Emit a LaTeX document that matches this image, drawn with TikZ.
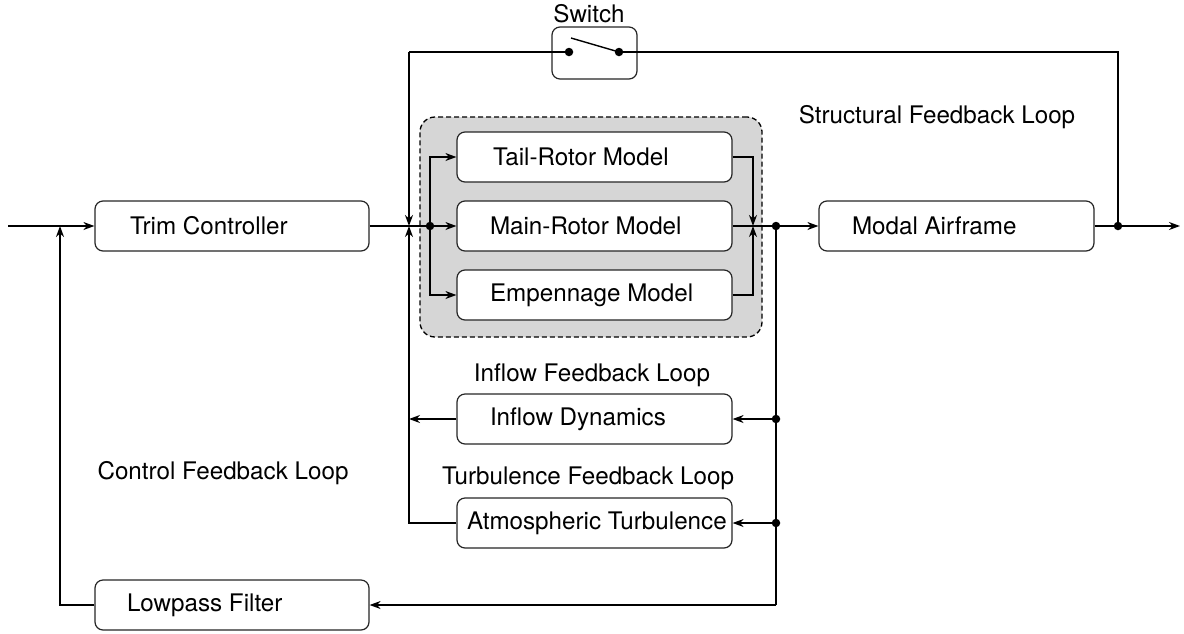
\documentclass[tikz,border=0pt]{standalone}
\usepackage{fontspec}
\setmainfont{TeX Gyre Heros}
\usetikzlibrary{arrows.meta}
\newcommand{\blabel}[3]{\makebox[#1pt][l]{\hspace{#2pt}#3}}
\begin{document}
\begin{tikzpicture}[x=1pt,y=-1pt,
  font=\fontsize{24.2}{28}\selectfont,
  blk/.style={draw=black!85, line width=1.2pt, rounded corners=8pt, fill=white, inner sep=0pt, minimum height=50pt, anchor=center},
  wire/.style={line width=1.4pt},
  arr/.style={wire, -{Stealth[length=11pt,width=8pt,inset=3.5pt]}},
  dot/.style={circle, fill=black, inner sep=0pt, minimum size=8.5pt},
  lbl/.style={inner sep=0pt}
]
\useasboundingbox (0,0) rectangle (1184,633);
% group
\node[draw=black, line width=1.3pt, dash pattern=on 5pt off 3pt, fill=black!16, rounded corners=15pt, minimum width=342pt, minimum height=220pt, inner sep=0pt] (grp) at (591,227) {};
% blocks
\node[blk, minimum width=274pt] (trim) at (232,226) {\blabel{274}{35}{Trim Controller}};
\node[blk, minimum width=274pt] (lowpass) at (232,605) {\blabel{274}{32}{Lowpass Filter}};
\node[blk, minimum width=275pt] (modal) at (956.5,226) {\blabel{275}{33}{Modal Airframe}};
\node[blk, minimum width=275pt] (tail) at (594.5,157) {\blabel{275}{36}{Tail-Rotor Model}};
\node[blk, minimum width=275pt] (main) at (594.5,226) {\blabel{275}{33}{Main-Rotor Model}};
\node[blk, minimum width=275pt] (emp) at (594.5,295) {\blabel{275}{33}{Empennage Model}};
\node[blk, minimum width=275pt] (inflow) at (594.5,419) {\blabel{275}{33}{Inflow Dynamics}};
\node[blk, minimum width=275pt] (atmos) at (594.5,523) {\blabel{275}{10}{Atmospheric Turbulence}};
% switch
\node[blk, minimum width=85pt, minimum height=52pt] (sw) at (594.5,53) {};
\node[lbl] (swlabel) at (589,14) {Switch};
\node[dot] (swa) at (569,52) {};
\node[dot] (swb) at (619,52) {};
\coordinate (lever) at (571,38);
\draw[wire] (lever) -- (swb.center);
% labels
\node[lbl] (lstruct) at (937,117) {Structural Feedback Loop};
\node[lbl] (lctrl) at (223,473) {Control Feedback Loop};
\node[lbl] (linflow) at (592,375) {Inflow Feedback Loop};
\node[lbl] (lturb) at (588,478) {Turbulence Feedback Loop};
% junctions
\coordinate (in) at (8,226);
\node[dot] (split) at (430,226) {};
\coordinate (merge) at (753,226);
\node[dot] (tap) at (776,226) {};
\node[dot] (outtap) at (1118,226) {};
\coordinate (out) at (1180,226);
\node[dot] (ti) at (776,419) {};
\node[dot] (ta) at (776,523) {};
\coordinate (sum) at (409,226);
\coordinate (fb) at (60,226);
\coordinate (swl) at (409,52);
\coordinate (str) at (1118,52);
\coordinate (lowc) at (776,605);
% connectors
\draw[arr] (in) -- (trim.west);
\draw[wire] (trim.east) -- (split.center);
\draw[arr] (split.center) -- (main.west);
\draw[arr] (split.center) |- (tail.west);
\draw[arr] (split.center) |- (emp.west);
\draw[arr] (tail.east) -| (merge);
\draw[arr] (emp.east) -| (merge);
\draw[wire] (main.east) -- (tap.center);
\draw[arr] (tap.center) -- (modal.west);
\draw[wire] (modal.east) -- (outtap.center);
\draw[arr] (outtap.center) -- (out);
\draw[wire] (outtap.center) -- (str) -- (swb.center);
\draw[wire] (swa.center) -- (swl);
\draw[arr] (swl) -- (sum);
\draw[wire] (tap.center) -- (lowc);
\draw[arr] (lowc) -- (lowpass.east);
\draw[arr] (ti.center) -- (inflow.east);
\draw[arr] (ta.center) -- (atmos.east);
\draw[arr] (inflow.west) -- (inflow.west -| sum);
\draw[arr] (atmos.west) -| (sum);
\draw[arr] (lowpass.west) -| (fb);
\end{tikzpicture}
\end{document}
